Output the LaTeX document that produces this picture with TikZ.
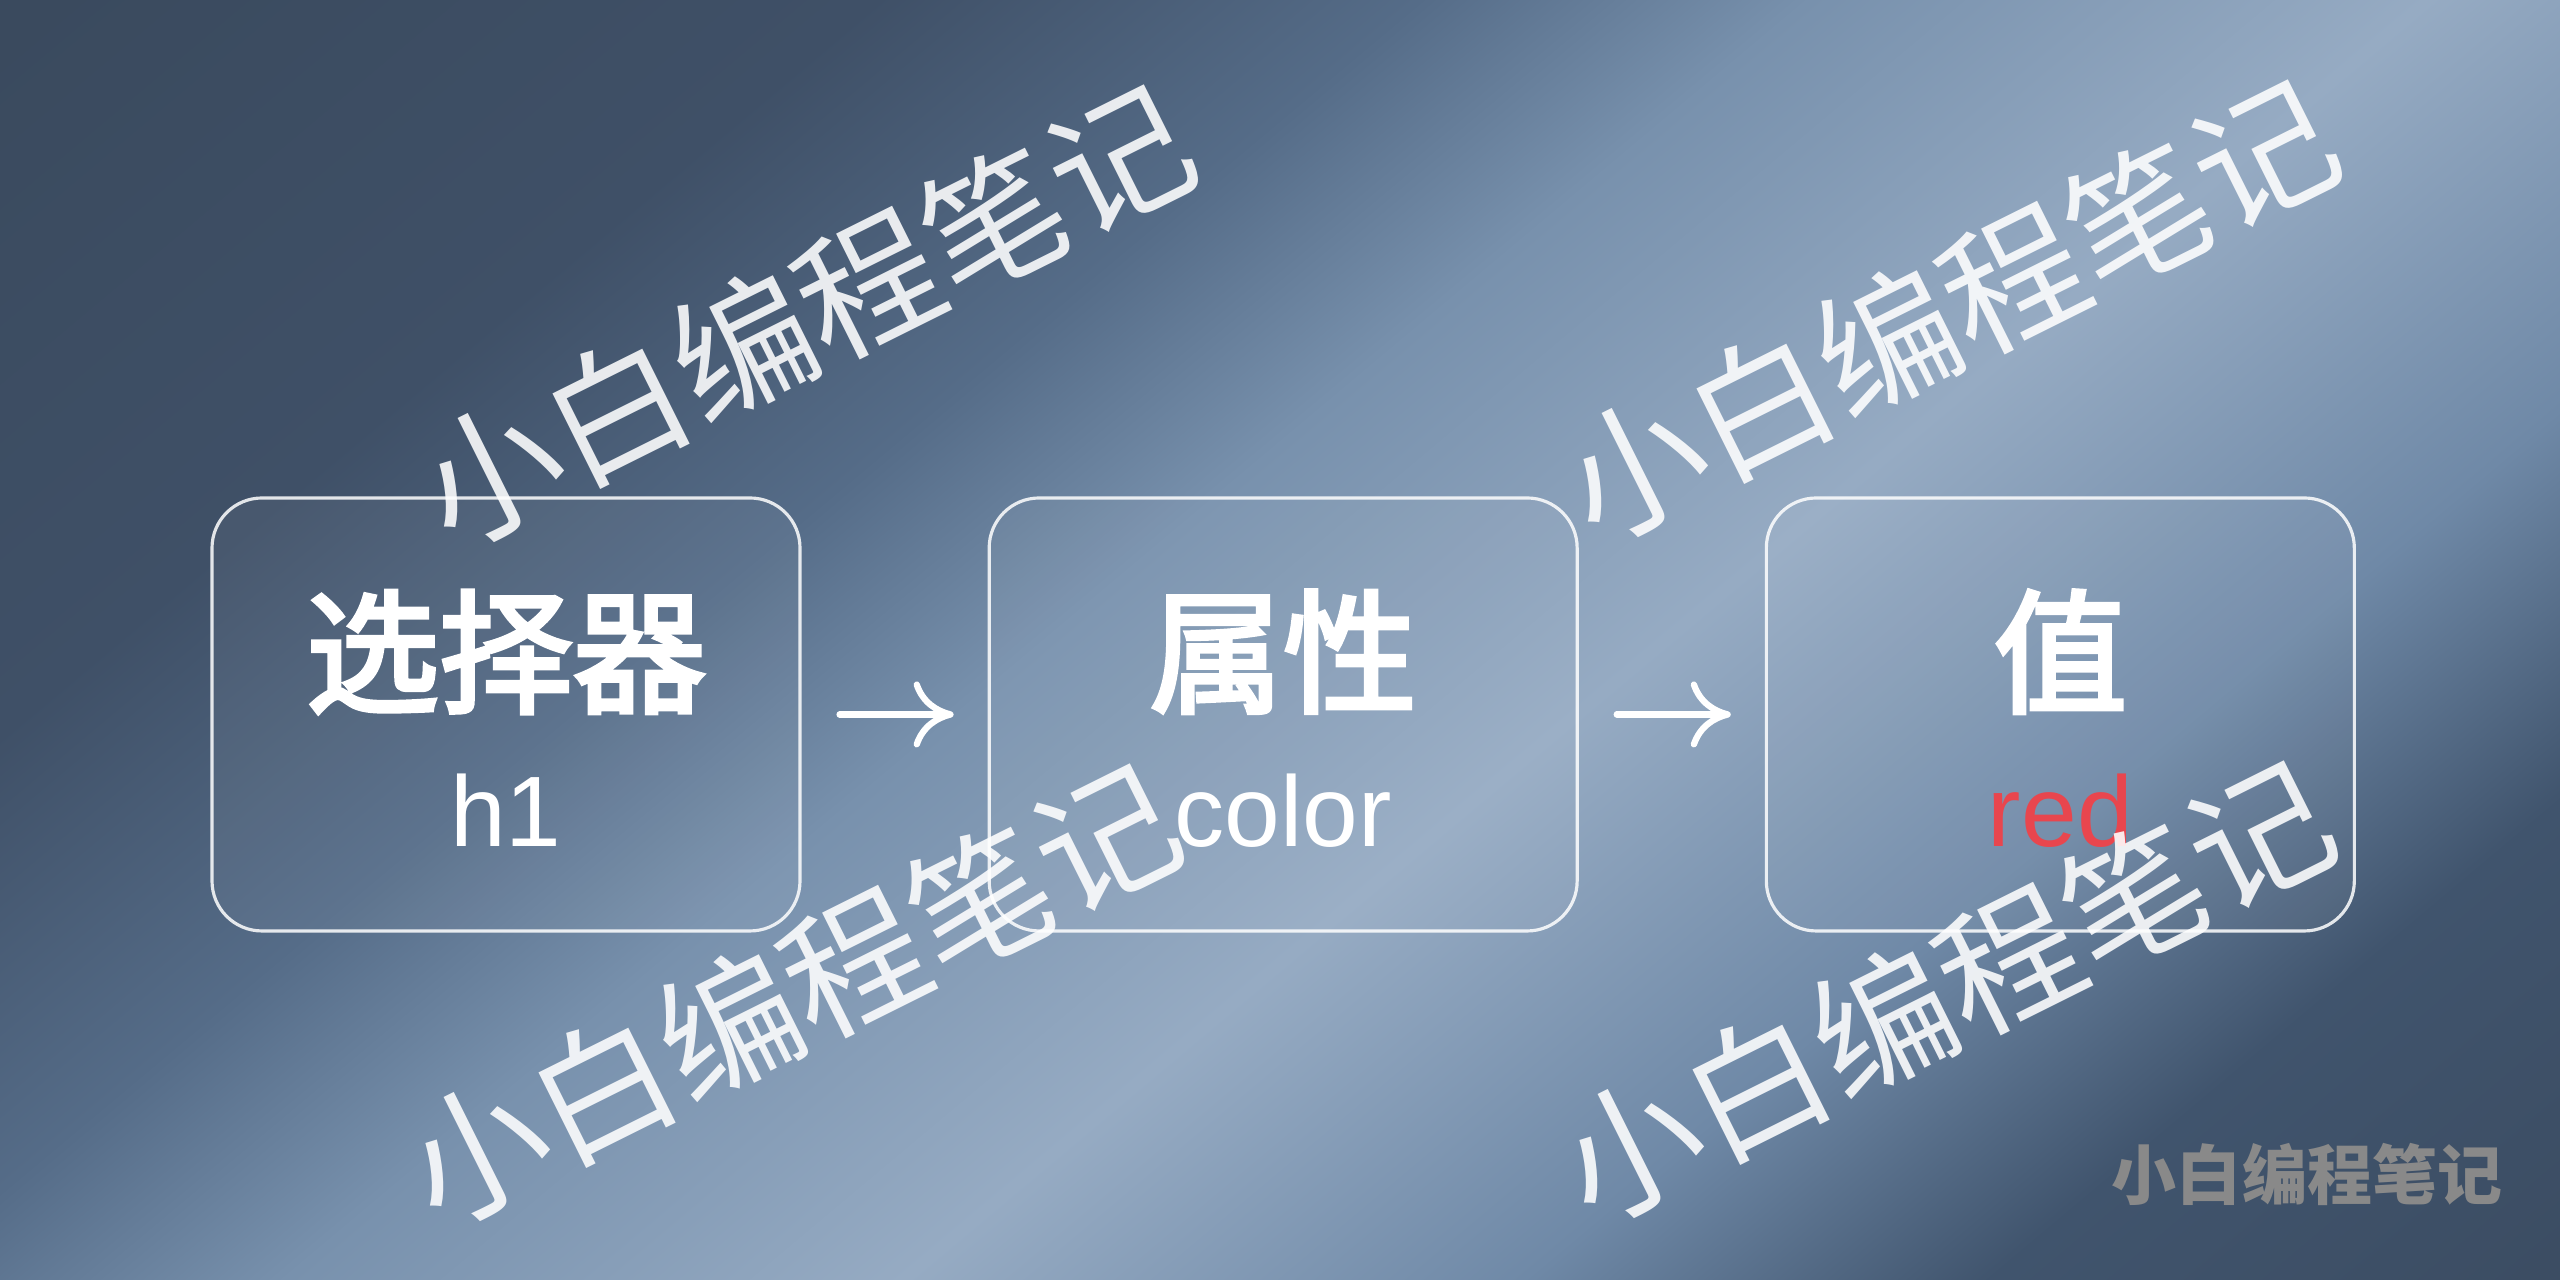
\documentclass[tikz,border=0pt]{standalone}
\usepackage{fontspec}
\setmainfont{Liberation Sans}
\newfontfamily\cjk{Noto Sans CJK SC}
\newfontfamily\cjkhead[FakeBold=3.2]{Noto Sans CJK SC}
\usetikzlibrary{positioning, arrows.meta}

\definecolor{bgdeep}{HTML}{3C4D63}
\definecolor{bgnight}{HTML}{40546D}
\definecolor{bgsteel}{HTML}{6F89A7}
\definecolor{bglight}{HTML}{96ABC3}
\definecolor{bgsky}{HTML}{7891AD}
\definecolor{bgslate}{HTML}{556C88}
\definecolor{bgdark}{HTML}{3F5067}
\definecolor{bgcorner}{HTML}{3A4A5E}
\definecolor{valred}{HTML}{E8464E}
\definecolor{brandgray}{HTML}{898989}

\pgfdeclareverticalshading{bgshade}{100bp}{color(0bp)=(bgdeep); color(35bp)=(bgdeep); color(40bp)=(bgnight); color(44.3bp)=(bgsteel); color(50bp)=(bglight); color(55.7bp)=(bgsky); color(59.3bp)=(bgslate); color(64.3bp)=(bgdark); color(72bp)=(bgcorner); color(100bp)=(bgcorner)}

\tikzset{
	box/.style={draw=white, draw opacity=0.85, line width=0.9pt, fill=white, fill opacity=0.05, text opacity=1, rounded corners=0.5cm, minimum width=5.88cm, minimum height=4.33cm},
	title/.style={anchor=base, text=white, font=\cjkhead\fontsize{38pt}{40pt}\selectfont},
	sub/.style={anchor=base, text=white, font=\fontsize{28.5pt}{30pt}\selectfont},
	flow/.style={-{To[length=4mm, width=6.6mm]}, white, line width=1.8pt, line cap=round, shorten <=0.38cm, shorten >=0.34cm},
	wmark/.style={text=white, text opacity=0.88, rotate=26.5, font=\cjk\fontsize{40pt}{42pt}\selectfont},
	brand/.style={text=brandgray, font=\cjk\bfseries\fontsize{18.5pt}{20pt}\selectfont}
}

\begin{document}
\begin{tikzpicture}
	\useasboundingbox (0, 0) rectangle (25.6, 12.8);

	% background
	\begin{scope}
		\clip (0, 0) rectangle (25.6, 12.8);
		\shade[shading=bgshade, shading angle=40] (-0.6, -10.9) rectangle (34.4, 24.1);
	\end{scope}

	% the three boxes
	\node[box] (b1) at (5.06, 5.655) {};
	\node[box, right=1.86cm of b1] (b2) {};
	\node[box, right=1.86cm of b2] (b3) {};

	\node[title] (t1) at ([yshift=0.12cm]b1.center) {选择器};
	\node[title] (t2) at ([yshift=0.12cm]b2.center) {属性};
	\node[title] (t3) at ([yshift=0.12cm]b3.center) {值};

	\node[sub] (s1) at ([yshift=-1.325cm]b1.center) {h1};
	\node[sub] (s2) at ([yshift=-1.325cm]b2.center) {color};
	\node[sub, text=valred] (s3) at ([yshift=-1.325cm]b3.center) {red};

	\draw[flow] (b1) -- (b2);
	\draw[flow] (b2) -- (b3);

	% watermarks
	\node[wmark] (wm1) at (8.05, 9.65) {小白编程笔记};
	\node[wmark] (wm2) at (19.49, 9.70) {小白编程笔记};
	\node[wmark] (wm3) at (7.91, 2.86) {小白编程笔记};
	\node[wmark] (wm4) at (19.45, 2.89) {小白编程笔记};

	\node[brand] (logo) at (23.07, 1.06) {小白编程笔记};
\end{tikzpicture}
\end{document}
